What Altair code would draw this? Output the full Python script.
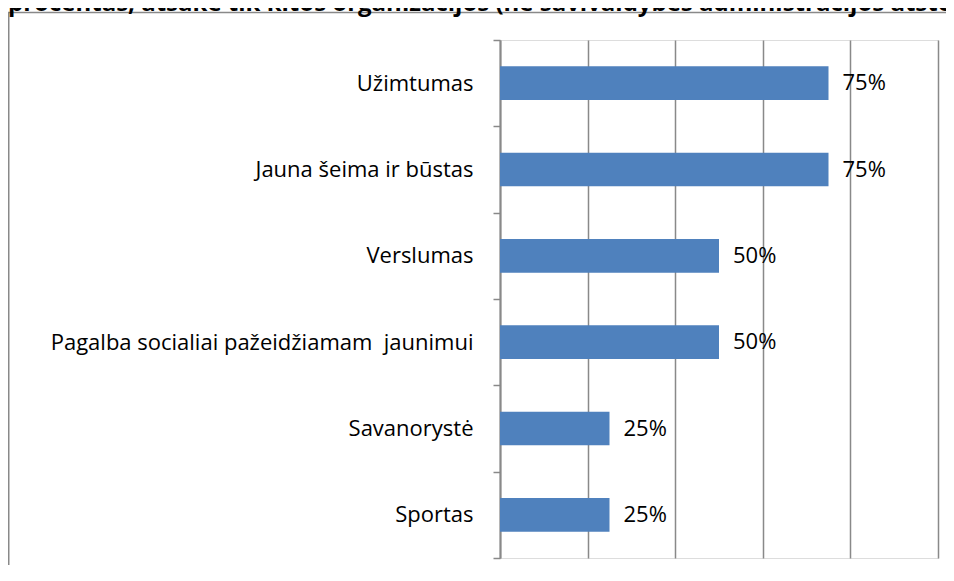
import altair as alt
import pandas as pd

categories = ["Užimtumas", "Jauna šeima ir būstas", "Verslumas",
              "Pagalba socialiai pažeidžiamam  jaunimui", "Savanorystė", "Sportas"]
values = [0.75, 0.75, 0.50, 0.50, 0.25, 0.25]
value_labels = ["75%", "75%", "50%", "50%", "25%", "25%"]
x_ticks = [0, 0.2, 0.4, 0.6, 0.8, 1.0]
title_text = "procentas, atsakė tik kitos organizacijos (ne savivaldybės administracijos atstovai)"

df = pd.DataFrame({"cat": categories, "val": values, "lab": value_labels})
one = pd.DataFrame({"k": [0]})

FONT = "Open Sans"
FS = 22
GRAY = "#898989"
W, H = 438, 518
PAD = {"left": 492, "top": 32, "right": 8, "bottom": 7}

y_enc = alt.Y(
    "cat:N", sort=categories, title=None,
    scale=alt.Scale(paddingInner=0, paddingOuter=0),
    axis=alt.Axis(tickBand="extent", domainColor=GRAY, domainWidth=2,
                  tickColor=GRAY, tickWidth=1.5, tickSize=7, labelPadding=20,
                  labelFont=FONT, labelFontSize=FS, labelColor="#000000",
                  labelLimit=0, grid=False,
                  labelExpr="replace(datum.label, '  ', ' \u00a0')"),
)
x_enc = alt.X(
    "val:Q", title=None,
    scale=alt.Scale(domain=[0, 1], nice=False, zero=True),
    axis=alt.Axis(values=x_ticks, grid=True, gridColor=GRAY, gridWidth=1.5,
                  labels=False, ticks=False, domain=False),
)

bars = alt.Chart(df).mark_bar(color="#4F81BD", height={"band": 0.39}).encode(
    x=x_enc, y=y_enc
)

labels = alt.Chart(df).mark_text(
    align="left", baseline="middle", dx=14, font=FONT, fontSize=FS, color="#000000"
).encode(
    x=alt.X("val:Q"), y=alt.Y("cat:N", sort=categories), text="lab:N"
)

border_left = alt.Chart(one).mark_rule(color=GRAY, strokeWidth=1.5).encode(
    x=alt.value(-491.25), y=alt.value(-27.5), y2=alt.value(H + PAD["bottom"])
)
border_top = alt.Chart(one).mark_rule(color=GRAY, strokeWidth=1.5).encode(
    x=alt.value(-492), x2=alt.value(W + PAD["right"]), y=alt.value(-27.5)
)

title = alt.Chart(one).mark_text(
    align="left", baseline="alphabetic", font=FONT, fontSize=24,
    fontWeight="bold", color="#000000"
).encode(x=alt.value(-492), y=alt.value(-29.5), text=alt.value(title_text))

chart = alt.layer(border_left, border_top, bars, labels, title).properties(
    width=W, height=H,
    autosize=alt.AutoSizeParams(type="none"),
    padding=PAD,
).configure_view(stroke=None).configure(background="white")

chart.save("out.html", embed_options={"renderer": "svg", "actions": False})
